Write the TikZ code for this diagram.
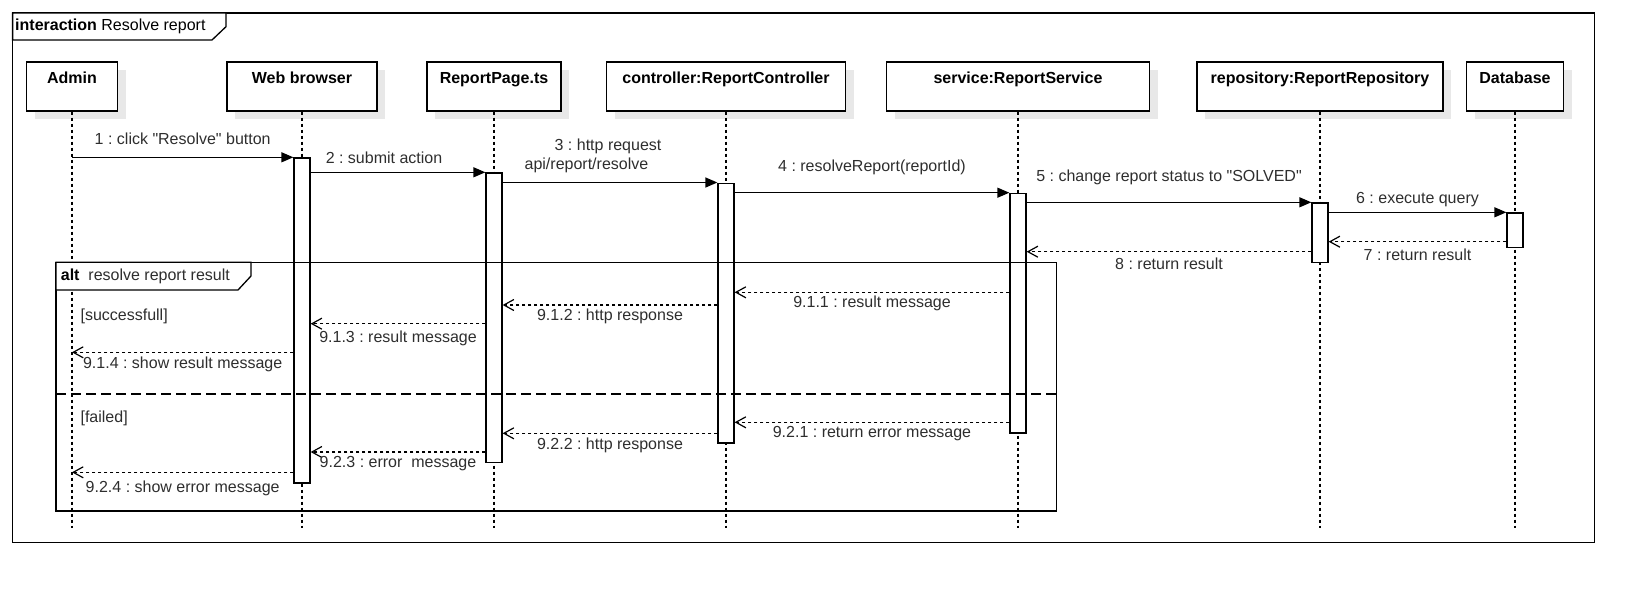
\documentclass[tikz,border=0pt]{standalone}
\usepackage{fontspec}
\setmainfont{Liberation Sans}[Ligatures=TeXOff]
\usetikzlibrary{arrows.meta,shadows}
\frenchspacing
\newcommand\dfont{\fontsize{16pt}{18.3pt}\selectfont}
\tikzset{
  head/.style={draw, fill=white, line width=1.3pt, font=\dfont\bfseries, inner sep=0pt,
    text height=21pt, text depth=28pt,
    drop shadow={shadow xshift=8pt, shadow yshift=-8pt, fill=black!9, opacity=1}},
  life/.style={line width=1.2pt, dash pattern=on 3pt off 3pt},
  act/.style={draw, fill=white, line width=1.3pt, anchor=north, minimum width=16pt, inner sep=0pt},
  umlframe/.style={line width=1.3pt},
  call/.style={line width=1.3pt, -{Triangle[length=12pt,width=10pt]}},
  ret/.style={line width=1.2pt, dash pattern=on 3pt off 3pt, -{Straight Barb[length=10pt,width=11pt]}},
  lbl/.style={font=\dfont, text=black!82, inner sep=1pt}
}
\begin{document}
\begin{tikzpicture}[x=1pt,y=-1pt]
  \useasboundingbox (0,0) rectangle (1646,592);
  \draw[umlframe] (12.6,13) rectangle (1594.4,542.7);
  \draw[umlframe, fill=white] (12.6,13) -- (226,13) -- (226,26.7) -- (212,40) -- (12.6,40) -- cycle;
  \node[lbl, text=black, anchor=west] (title) at (14,26.5) {\textbf{interaction} Resolve report};

  \node[head, minimum width=91pt] (hAdmin) at (72,86.5) {Admin};
  \node[head, minimum width=150pt] (hWeb) at (302,86.5) {Web browser};
  \node[head, minimum width=134pt] (hPage) at (494,86.5) {ReportPage.ts};
  \node[head, minimum width=239pt] (hCtrl) at (726,86.5) {controller:ReportController};
  \node[head, minimum width=263pt] (hServ) at (1018,86.5) {service:ReportService};
  \node[head, minimum width=246pt] (hRepo) at (1320,86.5) {repository:ReportRepository};
  \node[head, minimum width=97pt] (hDb) at (1515,86.5) {Database};

  \coordinate (bot) at (0,528);
  \foreach \h in {hAdmin,hWeb,hPage,hCtrl,hServ,hRepo,hDb}
    \draw[life] (\h.south) -- (\h.south |- bot);

  \node[act, minimum height=325pt] (aWeb) at (302,157.3) {};
  \node[act, minimum height=289.7pt] (aPage) at (494,172.3) {};
  \node[act, minimum height=259.8pt] (aCtrl) at (726,182.5) {};
  \node[act, minimum height=239.6pt] (aServ) at (1018,192.7) {};
  \node[act, minimum height=59.4pt] (aRepo) at (1320,202.3) {};
  \node[act, minimum height=34.7pt] (aDb) at (1515,212.3) {};

  \draw[umlframe] (56,262.3) rectangle (1056.7,511);
  \draw[umlframe, fill=white] (56,262.3) -- (251,262.3) -- (251,276) -- (238,290) -- (56,290) -- cycle;
  \node[lbl, anchor=west] (alt) at (59.7,276) {\textcolor{black}{\textbf{alt}}~ resolve report result};
  \draw[umlframe, dash pattern=on 10pt off 5pt] (56,394) -- (1056.7,394);
  \node[lbl, anchor=west] (gOk) at (79.4,316.7) {[successfull]};
  \node[lbl, anchor=west] (gFail) at (79.4,418.7) {[failed]};

  \draw[call] (hAdmin |- aWeb.north) -- (aWeb.north west)
    node[lbl, midway, yshift=19pt] {1 : click "Resolve" button};
  \draw[call] (aWeb.east |- aPage.north) -- (aPage.north west)
    node[lbl, midway, yshift=15pt, xshift=-14pt] {2 : submit action};
  \draw[call] (aPage.east |- aCtrl.north) -- (aCtrl.north west)
    node[lbl, midway, align=left, yshift=26.5pt, xshift=-17pt] {\hspace*{30pt}3 : http request\\api/report/resolve};
  \draw[call] (aCtrl.east |- aServ.north) -- (aServ.north west)
    node[lbl, midway, yshift=25pt] {4 : resolveReport(reportId)};
  \draw[call] (aServ.east |- aRepo.north) -- (aRepo.north west)
    node[lbl, midway, yshift=25pt] {5 : change report status to "SOLVED"};
  \draw[call] (aRepo.east |- aDb.north) -- (aDb.north west)
    node[lbl, midway, yshift=13pt] {6 : execute query};

  \draw[ret] (aDb.west |- 0,241.7) -- (aRepo.east |- 0,241.7)
    node[lbl, midway, yshift=-12.6pt] {7 : return result};
  \draw[ret] (aRepo.west |- 0,251.7) -- (aServ.east |- 0,251.7)
    node[lbl, midway, yshift=-11.6pt] {8 : return result};
  \draw[ret] (aServ.west |- 0,292.3) -- (aCtrl.east |- 0,292.3)
    node[lbl, midway, yshift=-11pt] {9.1.1 : result message};
  \draw[ret] (aCtrl.west |- 0,305) -- (aPage.east |- 0,305)
    node[lbl, midway, yshift=-11.7pt] {9.1.2 : http response};
  \draw[ret] (aPage.west |- 0,323.7) -- (aWeb.east |- 0,323.7)
    node[lbl, midway, yshift=-15pt] {9.1.3 : result message};
  \draw[ret] (aWeb.west |- 0,352.3) -- (hAdmin |- 0,352.3)
    node[lbl, midway, yshift=-11.7pt] {9.1.4 : show result message};
  \draw[ret] (aServ.west |- 0,422.3) -- (aCtrl.east |- 0,422.3)
    node[lbl, midway, yshift=-11pt] {9.2.1 : return error message};
  \draw[ret] (aCtrl.west |- 0,433.3) -- (aPage.east |- 0,433.3)
    node[lbl, midway, yshift=-11.7pt] {9.2.2 : http response};
  \draw[ret] (aPage.west |- 0,452) -- (aWeb.east |- 0,452)
    node[lbl, midway, yshift=-11.3pt] {9.2.3 : error~ message};
  \draw[ret] (aWeb.west |- 0,472.3) -- (hAdmin |- 0,472.3)
    node[lbl, midway, yshift=-16pt] {9.2.4 : show error message};
\end{tikzpicture}
\end{document}
